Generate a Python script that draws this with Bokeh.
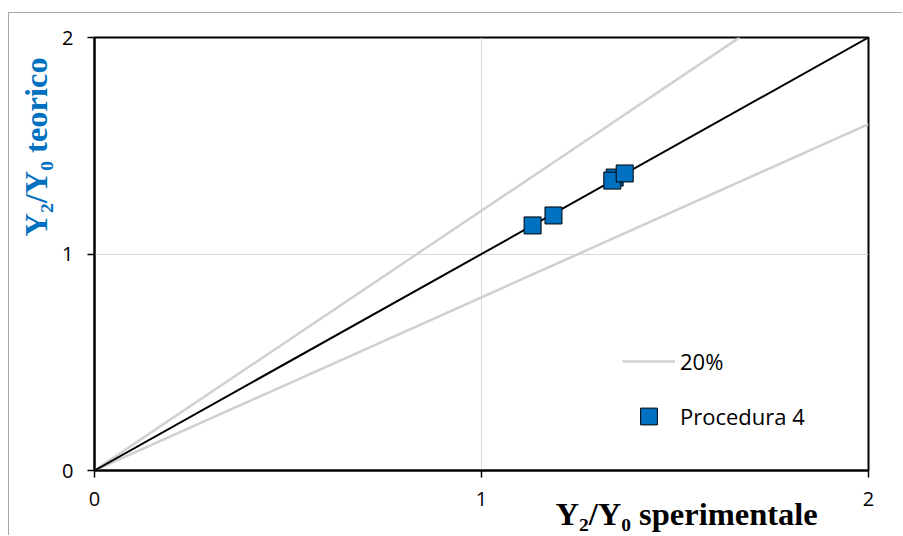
from bokeh.plotting import figure
from bokeh.models import Range1d, FixedTicker, Legend, LegendItem, Title
from bokeh.embed import file_html
from bokeh.resources import INLINE

# data
x_exp = [1.132, 1.186, 1.344, 1.338, 1.370]
y_teo = [1.132, 1.178, 1.353, 1.339, 1.372]
line_x = [0, 2]
line_y = [0, 2]
upper_x = [0, 2 / 1.2]
upper_y = [0, 2]
lower_x = [0, 2]
lower_y = [0, 1.6]
ticks = [0, 1, 2]
x_title = "Y\u2082/Y\u2080 sperimentale"
y_title = "Y\u2082/Y\u2080 teorico"

p = figure(width=894, height=523, output_backend="svg", toolbar_location=None,
           x_range=Range1d(0, 2), y_range=Range1d(0, 2),
           min_border_left=85, min_border_right=35, min_border_top=24, min_border_bottom=66,
           styles={"margin-top": "12px", "margin-left": "8px",
                   "border-top": "1px solid #a6a6a6",
                   "border-left": "1px solid #a6a6a6"})
p.outline_line_color = "black"
p.outline_line_width = 2

for ax in (p.xaxis, p.yaxis):
    ax.ticker = FixedTicker(ticks=ticks)
    ax.axis_line_color = "black"
    ax.axis_line_width = 2
    ax.major_tick_line_color = "black"
    ax.major_tick_line_width = 1.5
    ax.major_tick_out = 7
    ax.major_tick_in = 0
    ax.minor_tick_line_color = None
    ax.major_label_text_font = "Open Sans"
    ax.major_label_text_font_size = "20px"
    ax.major_label_text_color = "black"
p.xaxis.major_label_standoff = 14
p.yaxis.major_label_standoff = 14

p.xgrid.grid_line_color = "#d9d9d9"
p.ygrid.grid_line_color = "#d9d9d9"

g1 = p.line(upper_x, upper_y, line_color="#d0d0d0", line_width=2.5)
g2 = p.line(lower_x, lower_y, line_color="#d0d0d0", line_width=2.5)
p.line(line_x, line_y, line_color="black", line_width=2)
sc = p.scatter(x_exp, y_teo, marker="square", size=17, fill_color="#0070C0",
               line_color="black", line_width=1)

legend = Legend(items=[LegendItem(label="20%", renderers=[g1]),
                       LegendItem(label="Procedura 4", renderers=[sc])],
                location=(528, 33), padding=0, margin=0, spacing=13,
                glyph_width=53, glyph_height=42, label_standoff=5,
                border_line_color=None, background_fill_alpha=0,
                label_text_font="Open Sans", label_text_font_size="22px",
                label_text_color="black")
p.add_layout(legend)

tx = Title(text=x_title, align="left", offset=461, vertical_align="top",
           text_font="Liberation Serif", text_font_style="bold",
           text_font_size="32.5px", text_color="black", standoff=-25)
ty = Title(text=y_title, align="left", offset=234, vertical_align="bottom",
           text_font="Liberation Serif", text_font_style="bold",
           text_font_size="32.5px", text_color="#0070C0", standoff=12)
p.add_layout(tx, "below")
p.add_layout(ty, "left")

open("out.html", "w").write(file_html(p, INLINE))
